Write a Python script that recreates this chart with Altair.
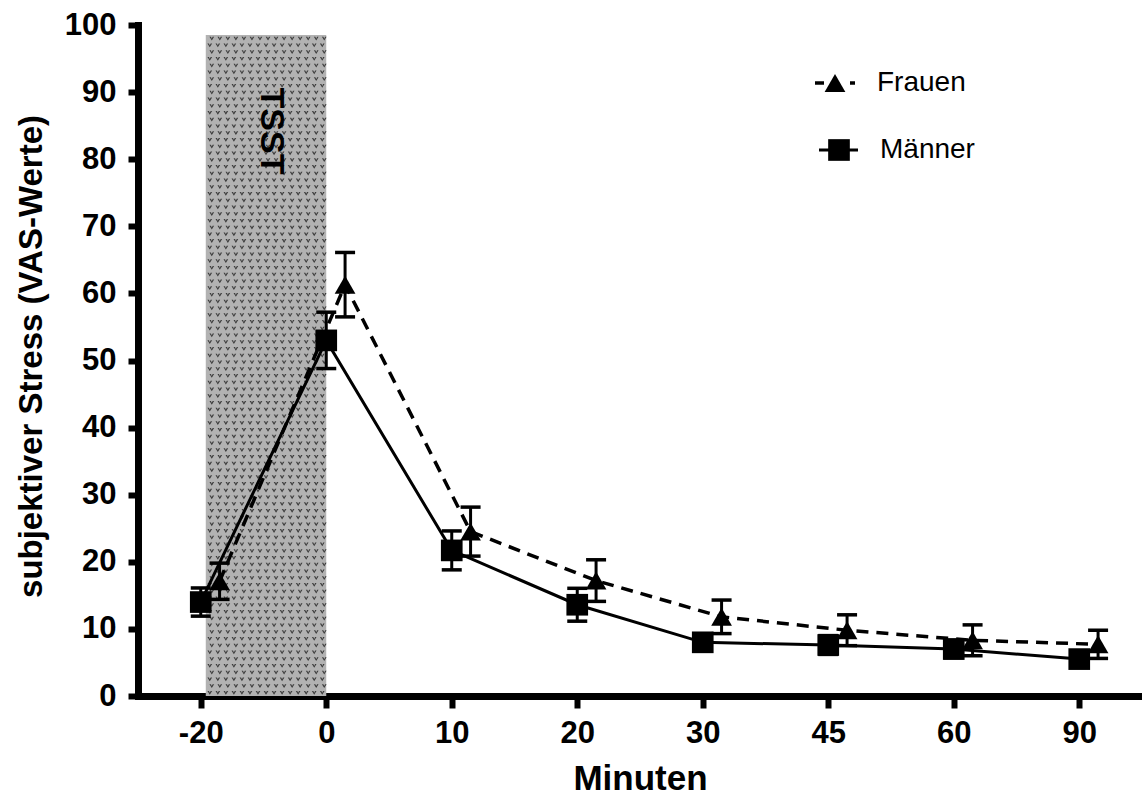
import json

import altair as alt
import pandas as pd

# Measurement times (minutes relative to the end of the TSST) and group means ± SEM
minutes = ["-20", "0", "10", "20", "30", "45", "60", "90"]
series = ["Frauen", "Männer"]

frauen_mean = [17.1, 61.3, 24.5, 17.2, 11.8, 9.8, 8.3, 7.7]
frauen_sem = [2.7, 4.8, 3.65, 3.1, 2.5, 2.3, 2.3, 2.1]

maenner_mean = [14.0, 53.0, 21.7, 13.6, 8.0, 7.6, 7.0, 5.5]
maenner_sem = [2.1, 4.2, 2.9, 2.45, 1.2, 1.4, 1.3, 1.0]

# TSST phase, in category-index units along the x axis, and its height on the VAS scale
tsst_start = 0.04
tsst_end = 1.0
tsst_top = 98.5

# Horizontal dodge so the two groups don't hide each other
dodge = {"Frauen": 0.15, "Männer": 0.0}

FONT = "Liberation Sans"

rows = []
for name, means, sems in [
    ("Frauen", frauen_mean, frauen_sem),
    ("Männer", maenner_mean, maenner_sem),
]:
    for i, (m, s) in enumerate(zip(means, sems)):
        rows.append(
            {
                "gruppe": name,
                "minute": minutes[i],
                "pos": i + dodge[name],
                "mean": m,
                "lo": m - s,
                "hi": m + s,
            }
        )
df = pd.DataFrame(rows)

band_df = pd.DataFrame(
    {"start": [tsst_start], "end": [tsst_end], "top": [tsst_top], "bottom": [0.0], "label": ["TSST"]}
)

x_scale = alt.Scale(domain=[-0.5, len(minutes) - 0.5], nice=False, zero=False)
y_scale = alt.Scale(domain=[0, 100], nice=False, zero=True)

axis_style = dict(
    grid=False,
    domainColor="black",
    domainWidth=7,
    domainCap="square",
    tickColor="black",
    tickWidth=6,
    labelFont=FONT,
    labelFontSize=31,
    labelFontWeight="bold",
    labelColor="black",
    titleFont=FONT,
    titleFontWeight="bold",
    titleColor="black",
)

x_axis = alt.Axis(
    values=list(range(len(minutes))),
    labelExpr=json.dumps(minutes) + "[datum.value]",
    title="Minuten",
    titleFontSize=35,
    titleX=502,
    titleY=82,
    titleBaseline="middle",
    tickSize=12,
    labelPadding=10,
    **axis_style,
)
y_axis = alt.Axis(
    values=list(range(0, 101, 10)),
    title="subjektiver Stress (VAS-Werte)",
    titleFontSize=33,
    titleX=-107,
    titleY=331,
    titleAngle=270,
    titleBaseline="middle",
    titleAlign="center",
    tickSize=10,
    labelPadding=12,
    **axis_style,
)


def xenc(field):
    return alt.X(f"{field}:Q", scale=x_scale, axis=x_axis)


def yenc(field):
    return alt.Y(f"{field}:Q", scale=y_scale, axis=y_axis)


# Shaded TSST block: grey fill with a fine dark hatch pattern and a rotated label
band = alt.Chart(band_df).mark_rect(fill="#b2b2b2").encode(
    x=xenc("start"), x2="end", y=yenc("top"), y2="bottom"
)

hatch_cols = 15
hatch_rows = 98
hatch_dx = (tsst_end - tsst_start) / hatch_cols
hatch_dy = tsst_top / hatch_rows
hatch = (
    alt.Chart(alt.sequence(0, hatch_cols * hatch_rows, as_="k"))
    .transform_calculate(
        col=f"datum.k % {hatch_cols}",
        row=f"floor(datum.k / {hatch_cols})",
    )
    .transform_calculate(
        hx=f"{tsst_start} + (datum.col + 0.5 + (datum.row % 2) * 0.25) * {hatch_dx}",
        hy=f"(datum.row + 0.5) * {hatch_dy}",
    )
    .mark_point(
        shape="M-1,-0.7L-0.35,-0.7L0,0.1L0.35,-0.7L1,-0.7L0,0.9Z",
        filled=True,
        size=22,
        color="#3c3c3c",
        opacity=1,
    )
    .encode(x=xenc("hx"), y=yenc("hy"))
)

band_label = (
    alt.Chart(band_df)
    .transform_calculate(mid="(datum.start + datum.end) / 2")
    .mark_text(
        angle=90,
        font=FONT,
        fontSize=34,
        fontWeight="bold",
        color="black",
        align="center",
        baseline="middle",
        dy=-5,
    )
    .encode(x=xenc("mid"), y=alt.value(106), text="label:N")
)

base = alt.Chart(df)
frauen = base.transform_filter(alt.datum.gruppe == "Frauen")
maenner = base.transform_filter(alt.datum.gruppe == "Männer")

line_m = maenner.mark_line(color="black", strokeWidth=3).encode(
    x=xenc("pos"), y=yenc("mean"), order="pos:Q"
)
line_f = frauen.mark_line(color="black", strokeWidth=3.5, strokeDash=[12, 8]).encode(
    x=xenc("pos"), y=yenc("mean"), order="pos:Q"
)

stems = base.mark_rule(color="black", strokeWidth=3, opacity=1).encode(
    x=xenc("pos"), y=yenc("lo"), y2="hi"
)
caps_hi = base.mark_tick(
    color="black", orient="horizontal", size=20, thickness=3.5, opacity=1
).encode(x=xenc("pos"), y=yenc("hi"))
caps_lo = base.mark_tick(
    color="black", orient="horizontal", size=20, thickness=3.5, opacity=1
).encode(x=xenc("pos"), y=yenc("lo"))

pts_m = maenner.mark_point(
    shape="square", filled=True, size=470, color="black", opacity=1
).encode(x=xenc("pos"), y=yenc("mean"))
pts_f = frauen.mark_point(
    shape="triangle-up", filled=True, size=430, color="black", opacity=1
).encode(x=xenc("pos"), y=yenc("mean"))

# Hand-built legend in the upper right corner
leg_f_df = pd.DataFrame({"label": [series[0]]})
leg_m_df = pd.DataFrame({"label": [series[1]]})

leg_f_dash = alt.Chart(leg_f_df).mark_rule(color="black", strokeWidth=3.5).encode(
    x=alt.value(677), x2=alt.value(686), y=alt.value(58)
)
leg_f_dot = alt.Chart(leg_f_df).mark_rule(color="black", strokeWidth=3.5).encode(
    x=alt.value(712), x2=alt.value(717), y=alt.value(58)
)
leg_f_sym = alt.Chart(leg_f_df).mark_point(
    shape="triangle-up", filled=True, size=430, color="black", opacity=1
).encode(x=alt.value(697), y=alt.value(58))
leg_f_txt = alt.Chart(leg_f_df).mark_text(
    font=FONT, fontSize=28, color="black", align="left", baseline="middle"
).encode(x=alt.value(739), y=alt.value(58), text="label:N")

leg_m_line = alt.Chart(leg_m_df).mark_rule(color="black", strokeWidth=3).encode(
    x=alt.value(681), x2=alt.value(720), y=alt.value(125)
)
leg_m_sym = alt.Chart(leg_m_df).mark_point(
    shape="square", filled=True, size=470, color="black", opacity=1
).encode(x=alt.value(701), y=alt.value(125))
leg_m_txt = alt.Chart(leg_m_df).mark_text(
    font=FONT, fontSize=28, color="black", align="left", baseline="middle"
).encode(x=alt.value(742), y=alt.value(125), text="label:N")

chart = (
    alt.layer(
        band,
        hatch,
        band_label,
        line_m,
        line_f,
        stems,
        caps_hi,
        caps_lo,
        pts_m,
        pts_f,
        leg_f_dash,
        leg_f_dot,
        leg_f_sym,
        leg_f_txt,
        leg_m_line,
        leg_m_sym,
        leg_m_txt,
    )
    .properties(
        width=1004,
        height=671,
        autosize=alt.AutoSizeParams(type="none"),
        padding={"left": 138, "top": 25, "right": 0, "bottom": 102},
        background="white",
    )
    .configure_view(stroke=None)
)

chart.save("out.html", embed_options={"renderer": "svg", "actions": False})
